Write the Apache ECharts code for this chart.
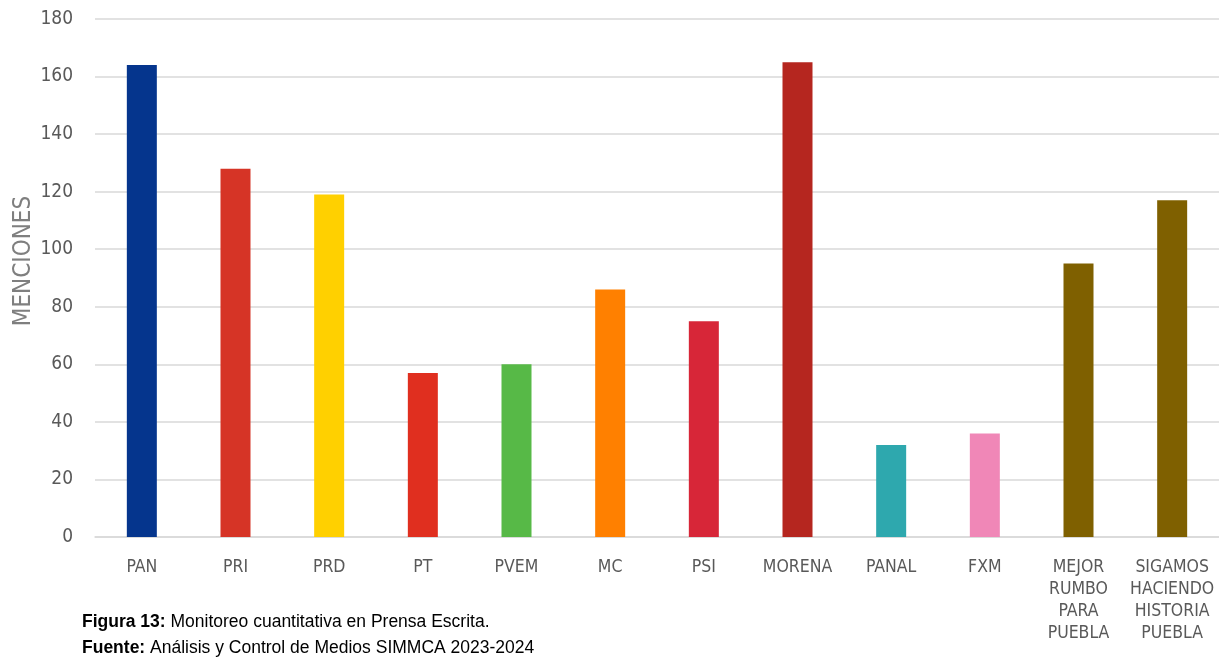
<!DOCTYPE html>
<html>
<head>
<meta charset="utf-8">
<script src="https://cdn.jsdelivr.net/npm/echarts@6/dist/echarts.min.js"></script>
<style>html,body{margin:0;padding:0;background:#fff}#c{width:1219px;height:660px}</style>
</head>
<body>
<div id="c"></div>
<script>
const categories = ['PAN','PRI','PRD','PT','PVEM','MC','PSI','MORENA','PANAL','FXM','MEJOR\nRUMBO\nPARA\nPUEBLA','SIGAMOS\nHACIENDO\nHISTORIA\nPUEBLA'];
const values = [164,128,119,57,60,86,75,165,32,36,95,117];
const colors = ['#05358D','#D63426','#FFD000','#E02F1F','#57B947','#FF8000','#D72638','#B5261F','#2EA8AE','#F087B7','#7F6000','#7F6000'];
const yTicks = [0,20,40,60,80,100,120,140,160,180];
const yAxisName = 'MENCIONES';
const captionLines = [['Figura 13:',' Monitoreo cuantitativa en Prensa Escrita.'],['Fuente:',' Análisis y Control de Medios SIMMCA 2023-2024']];

const font = "'DejaVu Sans Condensed','Liberation Sans Narrow','Roboto',sans-serif";
const capFont = "'Liberation Sans','Arial',sans-serif";
const chart = echarts.init(document.getElementById('c'), null, {renderer:'canvas'});
chart.setOption({
  animation:false,
  grid:{left:95, right:0, top:19, bottom:123, containLabel:false, outerBoundsMode:'none'},
  xAxis:{
    type:'category', data:categories,
    axisLine:{show:true, lineStyle:{color:'#d9d9d9', width:1.5}},
    axisTick:{show:false},
    axisLabel:{color:'#595959', fontSize:17.5, fontFamily:font, lineHeight:22, margin:19, interval:0}
  },
  yAxis:{
    type:'value', min:yTicks[0], max:yTicks[yTicks.length-1], interval:20,
    axisLine:{show:false}, axisTick:{show:false},
    axisLabel:{color:'#595959', fontSize:19, fontFamily:font, margin:22},
    splitLine:{lineStyle:{color:'#d9d9d9', width:1.5}}
  },
  series:[{
    type:'bar', barWidth:30,
    data: values.map((v,i)=>({value:v, itemStyle:{color:colors[i]}}))
  }],
  graphic: [{
    type:'text', x:24, y:261, rotation:Math.PI/2,
    style:{text:yAxisName, fill:'#7f7f7f', fontSize:24, fontFamily:font, align:'center', verticalAlign:'middle'}
  }].concat(captionLines.map((ln,i)=>({
    type:'text', left:82, top:613 + i*26,
    style:{
      text:'{b|'+ln[0]+'}{n|'+ln[1]+'}',
      rich:{
        b:{fontWeight:'bold', fontSize:17.5, fontFamily:capFont, fill:'#000'},
        n:{fontSize:17.5, fontFamily:capFont, fill:'#000'}
      }
    }
  })))
});
</script>
</body>
</html>
